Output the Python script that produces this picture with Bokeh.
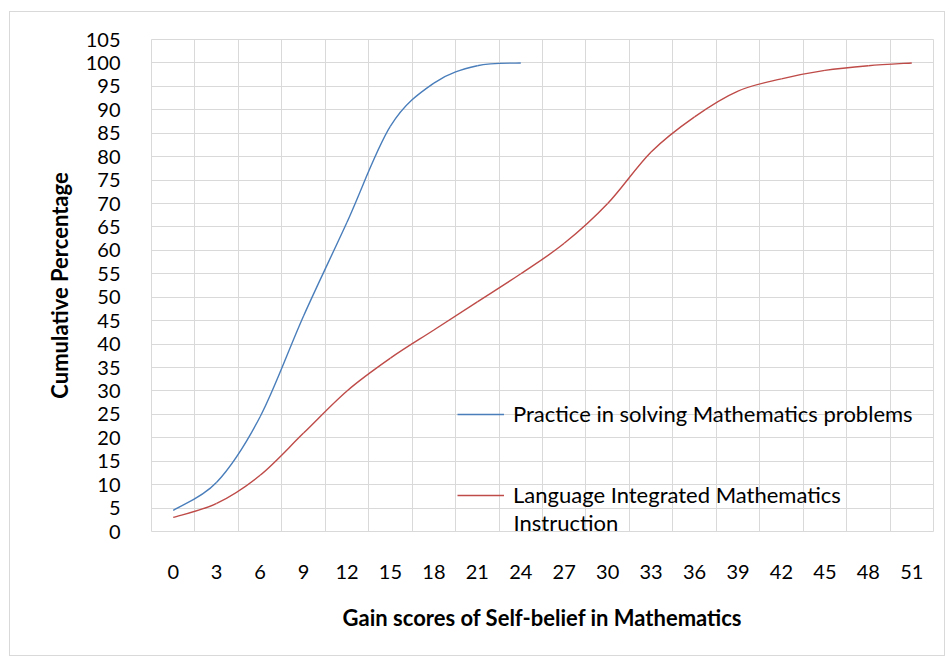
from bokeh.plotting import figure
from bokeh.models import FixedTicker, Legend, LegendItem, Label, Range1d
from bokeh.embed import file_html
from bokeh.resources import INLINE

# ---- data ----
scores = [0, 3, 6, 9, 12, 15, 18, 21, 24, 27, 30, 33, 36, 39, 42, 45, 48, 51]
practice = [4.5, 10.5, 24.5, 46, 66, 86.5, 95.7, 99.4, 100]
language = [3, 6, 12, 21, 30, 37, 43, 49, 55, 61.5, 70, 81, 88.5, 94, 96.6, 98.4, 99.4, 100]
y_ticks = list(range(0, 106, 5))
series_names = ["Practice in solving Mathematics problems", "Language Integrated Mathematics"]
wrap_text = "Instruction"

FONT = "Lato"
GRID = "#d9d9d9"
BLUE = "#4a7ebb"
RED = "#be4b48"

idx = list(range(len(scores)))


def smooth_segments(xs, ys):
    """Bezier control points for a smoothed line through the data points."""
    n = len(xs)
    x0, y0, x1, y1, cx0, cy0, cx1, cy1 = [], [], [], [], [], [], [], []
    for i in range(n - 1):
        ip = max(i - 1, 0)
        inn = min(i + 2, n - 1)
        x0.append(xs[i]); y0.append(ys[i])
        x1.append(xs[i + 1]); y1.append(ys[i + 1])
        cx0.append(xs[i] + (xs[i + 1] - xs[ip]) / 6.0)
        cy0.append(ys[i] + (ys[i + 1] - ys[ip]) / 6.0)
        cx1.append(xs[i + 1] - (xs[inn] - xs[i]) / 6.0)
        cy1.append(ys[i + 1] - (ys[inn] - ys[i]) / 6.0)
    return dict(x0=x0, y0=y0, x1=x1, y1=y1, cx0=cx0, cy0=cy0, cx1=cx1, cy1=cy1)


p = figure(width=936, height=645, output_backend="svg", toolbar_location=None,
           x_range=Range1d(-0.5, len(scores) - 0.5), y_range=Range1d(0, 105),
           min_border_left=141, min_border_right=13, min_border_top=27, min_border_bottom=126)
p.styles = {"border": "1px solid #d9d9d9", "margin-left": "9px", "margin-top": "11px"}

p.outline_line_color = GRID
p.background_fill_color = "white"
p.border_fill_color = "white"

r1 = p.bezier(line_color=BLUE, line_width=1.4, **smooth_segments(idx[:len(practice)], practice))
r2 = p.bezier(line_color=RED, line_width=1.4, **smooth_segments(idx, language))

# axes
p.xaxis.ticker = FixedTicker(ticks=idx)
p.xaxis.major_label_overrides = {i: str(s) for i, s in zip(idx, scores)}
p.yaxis.ticker = FixedTicker(ticks=y_ticks)
for ax in (p.xaxis[0], p.yaxis[0]):
    ax.axis_line_color = None
    ax.major_tick_line_color = None
    ax.minor_tick_line_color = None
    ax.major_label_text_font = FONT
    ax.major_label_text_font_size = "20px"
    ax.major_label_text_color = "black"
    ax.axis_label_text_font = FONT
    ax.axis_label_text_font_style = "bold"
    ax.axis_label_text_font_size = "22px"
    ax.axis_label_text_color = "black"

p.xaxis.axis_label = "Gain scores of Self-belief in Mathematics"
p.yaxis.axis_label = "Cumulative Percentage"
p.xaxis.major_label_standoff = 27
p.xaxis.axis_label_standoff = 22
p.yaxis.major_label_standoff = 25
p.yaxis.axis_label_standoff = 10

# grids
p.xgrid.ticker = FixedTicker(ticks=[i - 0.5 for i in range(len(scores) + 1)])
p.ygrid.ticker = FixedTicker(ticks=y_ticks)
p.xgrid.grid_line_color = GRID
p.ygrid.grid_line_color = GRID
p.xgrid.grid_line_width = 1
p.ygrid.grid_line_width = 1

legend = Legend(items=[LegendItem(label=series_names[0], renderers=[r1]),
                       LegendItem(label=series_names[1], renderers=[r2])],
                location=(306, 23), orientation="vertical",
                padding=0, margin=0, spacing=54,
                glyph_width=47, glyph_height=26, label_height=26, label_standoff=9,
                label_text_font=FONT, label_text_font_size="22px", label_text_color="black",
                border_line_color=None, background_fill_alpha=0)
p.add_layout(legend, "center")

p.add_layout(Label(x=362, y=9, x_units="screen", y_units="screen", text=wrap_text,
                   text_font=FONT, text_font_size="22px", text_color="black",
                   text_baseline="alphabetic"))

open("out.html", "w").write(file_html(p, INLINE))
